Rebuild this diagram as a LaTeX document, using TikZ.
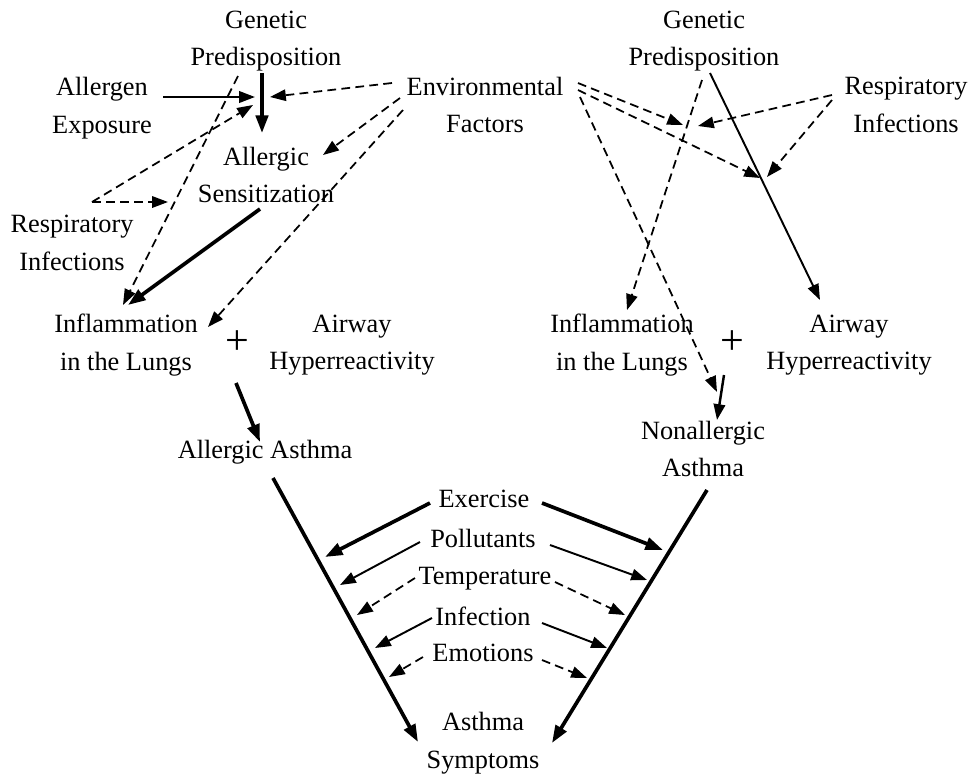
\documentclass[tikz,border=0pt]{standalone}
\usepackage{fontspec}
\setmainfont{Liberation Serif}
\usetikzlibrary{arrows.meta,calc}
\tikzset{
  lbl/.style={font=\fontsize{15pt}{21.5pt}\selectfont, align=center, inner sep=0pt},
  plusnode/.style={font=\fontsize{24pt}{24pt}\selectfont, inner sep=0pt},
  arrowtip/.style={-{Triangle[length=9pt,width=6.5pt]}},
  thk/.style={line width=2.1pt, -{Triangle[length=10pt,width=7pt]}},
  thn/.style={line width=1.1pt, arrowtip},
  dsh/.style={line width=1pt, dash pattern=on 5pt off 3pt, arrowtip},
}
\begin{document}
\begin{tikzpicture}[x=0.02cm,y=-0.02cm]
\useasboundingbox (0,0) rectangle (975,775);
% left side nodes
\node[lbl] (GP1) at (266,41) {Genetic\\Predisposition};
\node[lbl] (AE) at (102,108) {Allergen\\Exposure};
\node[lbl] (Env) at (485,105) {Environmental\\Factors};
\node[lbl] (AS) at (266,175) {Allergic\\Sensitization};
\node[lbl] (RI1) at (72,243) {Respiratory\\Infections};
\node[lbl] (IL1) at (126,345) {Inflammation\\in the Lungs};
\node[plusnode] (plus1) at (237,343) {+};
\node[lbl] (AH1) at (352,345) {Airway\\Hyperreactivity};
\node[lbl] (AA) at (265,452) {Allergic Asthma};
% right side nodes
\node[lbl] (GP2) at (704,41) {Genetic\\Predisposition};
\node[lbl] (RI2) at (906,105) {Respiratory\\Infections};
\node[lbl] (IL2) at (622,345) {Inflammation\\in the Lungs};
\node[plusnode] (plus2) at (732,343) {+};
\node[lbl] (AH2) at (849,345) {Airway\\Hyperreactivity};
\node[lbl] (NA) at (703,449) {Nonallergic\\Asthma};
% bottom nodes
\node[lbl] (Ex) at (484,499) {Exercise};
\node[lbl] (Po) at (483,538) {Pollutants};
\node[lbl] (Te) at (485,579) {Temperature};
\node[lbl] (In) at (483,616) {Infection};
\node[lbl] (Em) at (483,653) {Emotions};
\node[lbl] (ASym) at (483,743) {Asthma\\Symptoms};

% left connectors
\draw[thn,line width=1.3pt] ($(AE)+(61,-11)$) -- ($(GP1)+(-11,56)$);
\draw[thk] ($(GP1)+(-4,32)$) -- ($(AS)+(-4,-42)$);
\draw[dsh] ($(Env)+(-93,-22)$) -- ($(GP1)+(4,56)$);
\draw[dsh] ($(RI1)+(20,-41)$) -- ($(GP1)+(-13,64)$);
\draw[dsh] ($(RI1)+(20,-41)$) -- ($(RI1)+(96,-41)$);
\draw[dsh] ($(GP1)+(-28,35)$) -- ($(IL1)+(-3,-40)$);
\draw[dsh] ($(Env)+(-85,-7)$) -- ($(AS)+(57,-20)$);
\draw[dsh] ($(Env)+(-82,5)$) -- ($(IL1)+(82,-18)$);
\draw[thk] ($(AS)+(-6,34)$) -- ($(IL1)+(2,-40)$);
\draw[thk] ($(plus1)+(-1,40)$) -- ($(AA)+(-5,-10)$);

% right connectors
\draw[dsh] ($(Env)+(93,-22)$) -- ($(GP2)+(-21,84)$);
\draw[dsh] ($(Env)+(93,-15)$) -- ($(GP2)+(56,137)$);
\draw[dsh] ($(Env)+(95,-8)$) -- ($(NA)+(14,-57)$);
\draw[dsh] ($(RI2)+(-74,-10)$) -- ($(GP2)+(-6,85)$);
\draw[dsh] ($(RI2)+(-74,-5)$) -- ($(GP2)+(63,136)$);
\draw[dsh] ($(GP2)+(-2,39)$) -- ($(IL2)+(5,-35)$);
\draw[thn] ($(GP2)+(6,32)$) -- ($(AH2)+(-29,-45)$);
\draw[thn,line width=1.4pt] ($(plus2)+(-8,32)$) -- ($(NA)+(14,-29)$);

% V lines
\draw[thk] ($(AA)+(8,26)$) -- ($(ASym)+(-65,-1)$);
\draw[thk] ($(NA)+(4,41)$) -- ($(ASym)+(69,0)$);

% triggers
\draw[thk] ($(Ex)+(-54,4)$) -- ($(Ex)+(-159,58)$);
\draw[thk] ($(Ex)+(58,4)$) -- ($(Ex)+(179,51)$);
\draw[thn] ($(Po)+(-63,4)$) -- ($(Po)+(-143,47)$);
\draw[thn] ($(Po)+(67,7)$) -- ($(Po)+(164,42)$);
\draw[dsh] ($(Te)+(-70,-1)$) -- ($(Te)+(-128,36)$);
\draw[dsh] ($(Te)+(70,3)$) -- ($(Te)+(140,36)$);
\draw[thn] ($(In)+(-51,2)$) -- ($(In)+(-108,32)$);
\draw[thn] ($(In)+(59,7)$) -- ($(In)+(124,32)$);
\draw[dsh] ($(Em)+(-60,4)$) -- ($(Em)+(-94,24)$);
\draw[dsh] ($(Em)+(59,7)$) -- ($(Em)+(104,25)$);
\end{tikzpicture}
\end{document}
